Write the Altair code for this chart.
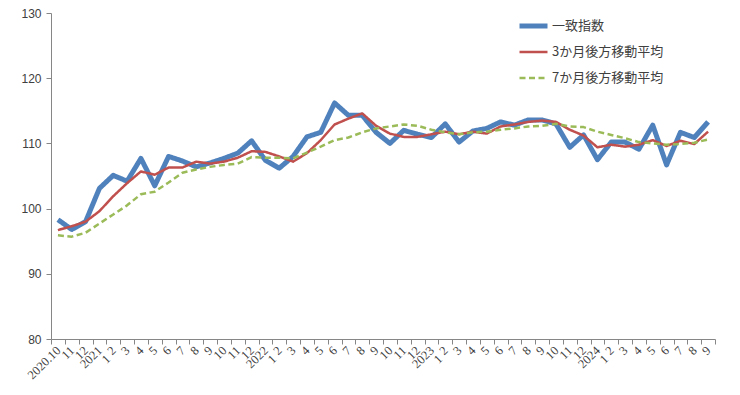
import json
import altair as alt
import pandas as pd

month_labels = [
    "2020.10", "11", "12",
    ["2021", "1"], "2", "3", "4", "5", "6", "7", "8", "9", "10", "11", "12",
    ["2022", "1"], "2", "3", "4", "5", "6", "7", "8", "9", "10", "11", "12",
    ["2023", "1"], "2", "3", "4", "5", "6", "7", "8", "9", "10", "11", "12",
    ["2024", "1"], "2", "3", "4", "5", "6", "7", "8", "9",
]

series_names = ["一致指数", "3か月後方移動平均", "7か月後方移動平均"]

coincident = [98.3, 96.8, 98.0, 103.1, 105.1, 104.2, 107.7, 103.5, 108.0, 107.3,
              106.4, 107.0, 107.7, 108.5, 110.4, 107.4, 106.2, 108.0, 111.0, 111.7,
              116.2, 114.3, 114.3, 111.7, 110.0, 112.0, 111.4, 110.9, 113.0, 110.2,
              111.9, 112.3, 113.3, 112.8, 113.6, 113.6, 113.0, 109.4, 111.3, 107.5,
              110.2, 110.2, 109.1, 112.8, 106.7, 111.7, 110.9, 113.3]

ma3 = [96.7, 97.3, 98.0, 99.6, 101.9, 103.9, 105.7, 105.2, 106.3, 106.3,
       107.2, 106.9, 107.2, 107.8, 108.8, 108.7, 108.0, 107.2, 108.5, 110.5,
       112.9, 113.8, 114.6, 112.7, 111.5, 111.0, 111.0, 111.4, 111.8, 111.4,
       111.8, 111.5, 112.6, 112.9, 113.3, 113.5, 113.3, 112.1, 111.2, 109.4,
       109.8, 109.5, 109.8, 110.5, 109.6, 110.4, 109.9, 111.8]

ma7 = [95.9, 95.7, 96.3, 97.7, 99.1, 100.5, 102.2, 102.6, 104.0, 105.5,
       106.0, 106.4, 106.7, 106.9, 107.9, 107.8, 107.8, 107.7, 108.6, 109.5,
       110.5, 110.9, 111.7, 112.3, 112.6, 112.9, 112.7, 112.1, 111.7, 111.4,
       111.7, 111.8, 112.1, 112.3, 112.6, 112.7, 113.0, 112.6, 112.5, 111.8,
       111.3, 110.8, 110.2, 110.0, 109.8, 109.9, 110.1, 110.6]

y_ticks = [80, 90, 100, 110, 120, 130]

rows = []
for name, vals in zip(series_names, [coincident, ma3, ma7]):
    for i, v in enumerate(vals):
        rows.append({"i": i, "value": v, "series": name})
df = pd.DataFrame(rows)

W, H = 664, 326
n = len(month_labels)
band = W / n
tick_vals = [k - 0.5 for k in range(n + 1)]
label_expr = json.dumps(month_labels, ensure_ascii=False) + "[datum.value + 0.5] || ''"

axis_color = "#868686"
text_color = "#404040"

chart = alt.Chart(df).mark_line(strokeCap="butt", strokeJoin="round").encode(
    x=alt.X("i:Q",
            scale=alt.Scale(domain=[-0.5, n - 0.5], nice=False, zero=False),
            axis=alt.Axis(values=tick_vals, labelExpr=label_expr, labelAngle=-45,
                          labelAlign="right", labelBaseline="bottom",
                          labelOffset=band / 2 + 5, labelPadding=9,
                          tickSize=5, tickColor=axis_color, domainColor=axis_color,
                          grid=False, title=None, labelOverlap=False, labelFlush=False,
                          labelBound=False,
                          labelFont="Liberation Serif", labelFontSize=12.5,
                          labelColor=text_color, labelLineHeight=12)),
    y=alt.Y("value:Q",
            scale=alt.Scale(domain=[80, 130], nice=False, zero=False),
            axis=alt.Axis(values=y_ticks, grid=False, title=None, tickSize=5,
                          tickColor=axis_color, domainColor=axis_color,
                          labelPadding=5, labelFont="Liberation Sans",
                          labelFontSize=12, labelColor=text_color)),
    color=alt.Color("series:N",
                    scale=alt.Scale(domain=series_names,
                                    range=["#4F81BD", "#C0504D", "#9BBB59"]),
                    legend=alt.Legend(orient="none", legendX=466, legendY=0,
                                      title=None, symbolType="stroke",
                                      symbolSize=784, clipHeight=26, rowPadding=0,
                                      labelOffset=2, labelFont="Noto Sans CJK JP",
                                      labelFontSize=13, labelColor=text_color,
                                      labelLimit=300)),
    strokeWidth=alt.StrokeWidth("series:N",
                                scale=alt.Scale(type="ordinal", domain=series_names,
                                                range=[5, 2.5, 2.5]),
                                legend=alt.Legend(orient="none", legendX=466, legendY=0,
                                                  title=None)),
    strokeDash=alt.StrokeDash("series:N",
                              scale=alt.Scale(domain=series_names,
                                              range=[[1, 0], [1, 0], [6, 3.5]]),
                              legend=alt.Legend(orient="none", legendX=466, legendY=0,
                                                title=None)),
    order=alt.Order("i:Q"),
).properties(
    width=W, height=H,
    background="white",
    autosize=alt.AutoSizeParams(type="none"),
    padding={"left": 43, "top": 5, "right": 17, "bottom": 48},
).configure_view(strokeOpacity=0, strokeWidth=0)

chart.save("out.html", embed_options={"renderer": "svg", "actions": False})
